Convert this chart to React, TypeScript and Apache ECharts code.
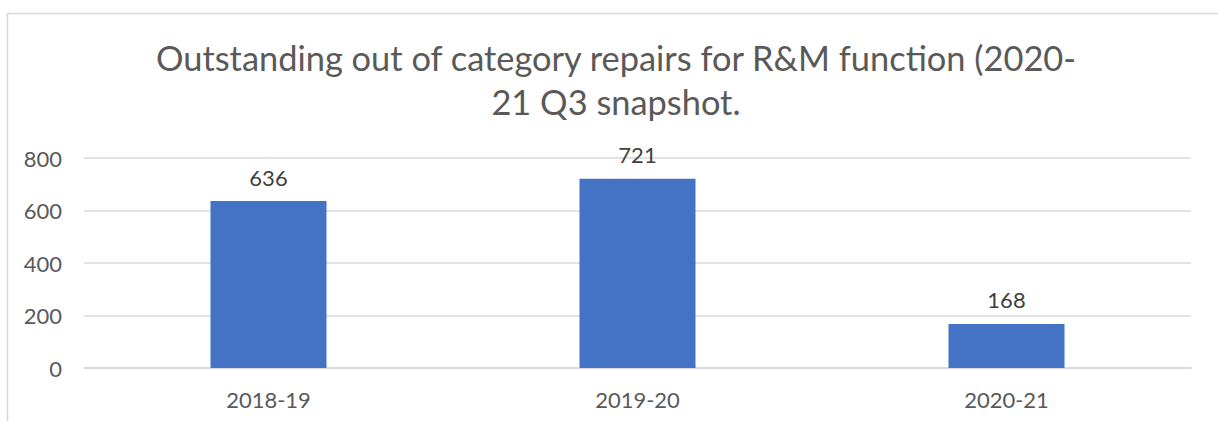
import React, { useEffect, useRef } from "react";
import * as echarts from "echarts";

const categories = ["2018-19", "2019-20", "2020-21"];
const values = [636, 721, 168];
const yTicks = [0, 200, 400, 600, 800];
const titleText = "Outstanding out of category repairs for R&M function (2020-\n21 Q3 snapshot.";

export default function App() {
  const ref = useRef<HTMLDivElement>(null);
  useEffect(() => {
    if (!ref.current) return;
    const chart = echarts.init(ref.current, null, { renderer: "svg" });
    const font = "Lato";
    chart.setOption({
      animation: false,
      title: {
        text: titleText,
        left: 611,
        top: 30,
        textAlign: "center",
        textStyle: { fontFamily: font, fontSize: 34.4, fontWeight: "normal", color: "#595959", lineHeight: 44 },
      },
      graphic: [
        {
          type: "rect",
          shape: { x: 7.5, y: 13.5, width: 1300, height: 500 },
          style: { fill: "none", stroke: "#d9d9d9", lineWidth: 1.5 },
          silent: true,
        },
      ],
      grid: { left: 84, right: 27, top: 158, bottom: 53 },
      xAxis: {
        type: "category",
        data: categories,
        axisLine: { show: true, lineStyle: { color: "#d9d9d9", width: 1.5 } },
        axisTick: { show: false },
        axisLabel: { fontFamily: font, fontSize: 22, color: "#595959", margin: 20 },
      },
      yAxis: {
        type: "value",
        min: yTicks[0],
        max: yTicks[yTicks.length - 1],
        interval: 200,
        axisLine: { show: false },
        axisTick: { show: false },
        splitLine: { lineStyle: { color: "#d9d9d9", width: 1.5 } },
        axisLabel: { fontFamily: font, fontSize: 22, color: "#595959", margin: 22 },
      },
      series: [
        {
          type: "bar",
          data: values,
          barWidth: 116,
          itemStyle: { color: "#4472c4" },
          label: {
            show: true,
            position: "top",
            distance: 13,
            fontFamily: font,
            fontSize: 22,
            color: "#404040",
          },
        },
      ],
    });
    return () => chart.dispose();
  }, []);
  return (
    <div
      ref={ref}
      style={{ position: "fixed", left: 0, top: 0, width: 1218, height: 421, background: "#fff" }}
    />
  );
}
